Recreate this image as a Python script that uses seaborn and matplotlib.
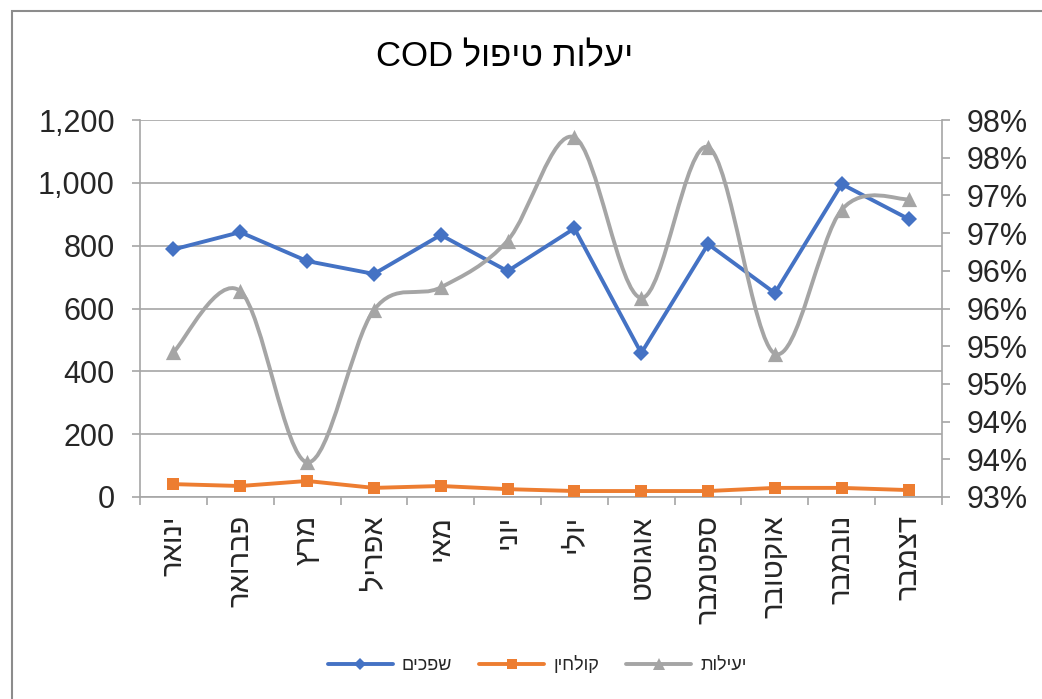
# COD treatment efficiency chart (Excel style, twin axes)

import numpy as np
import pandas as pd
import seaborn as sns
import matplotlib.pyplot as plt
from matplotlib.path import Path
from matplotlib.patches import PathPatch, Rectangle
from matplotlib.lines import Line2D
from matplotlib.ticker import FixedLocator, StrMethodFormatter

months = ["ינואר", "פברואר", "מרץ", "אפריל", "מאי", "יוני",
          "יולי", "אוגוסט", "ספטמבר", "אוקטובר", "נובמבר", "דצמבר"]
inflow = [788, 843, 751, 710, 834, 719, 855, 458, 805, 649, 996, 885]      # שפכים
effluent = [41, 35, 51, 29, 35, 25, 19, 19, 19, 29, 29, 22]                # קולחין
efficiency = [94.92, 95.73, 93.46, 95.48, 95.78, 96.40,
              97.77, 95.64, 97.64, 94.90, 96.81, 96.95]                    # יעילות (%)
left_ticks = [0, 200, 400, 600, 800, 1000, 1200]
right_ticks = [93.0, 93.5, 94.0, 94.5, 95.0, 95.5, 96.0, 96.5, 97.0, 97.5, 98.0]
right_labels = ["93%", "94%", "94%", "95%", "95%", "96%",
                "96%", "97%", "97%", "98%", "98%"]
title = "יעלות טיפול COD"
legend_names = ["שפכים", "קולחין", "יעילות"]


def rtl(s):
    # matplotlib has no bidi support: put Hebrew words in visual order
    out = []
    for w in reversed(s.split(" ")):
        if any("\u0590" <= c <= "\u05ff" for c in w):
            out.append(w[::-1])
        else:
            out.append(w)
    return " ".join(out)


def smooth_path(xs, ys):
    # Excel-like smoothed line: cubic bezier through points (catmull-rom)
    pts = np.column_stack([xs, ys]).astype(float)
    n = len(pts)
    verts = [pts[0]]
    codes = [Path.MOVETO]
    for i in range(n - 1):
        p0 = pts[max(i - 1, 0)]
        p1 = pts[i]
        p2 = pts[i + 1]
        p3 = pts[min(i + 2, n - 1)]
        verts += [p1 + (p2 - p0) / 6, p2 - (p3 - p1) / 6, p2]
        codes += [Path.CURVE4] * 3
    return Path(verts, codes)


sns.set_theme(style="white")
plt.rcParams["font.family"] = ["Liberation Sans", "DejaVu Sans"]

blue = "#4472C4"
orange = "#ED7D31"
gray = "#A5A5A5"
axis_gray = "#A6A6A6"

df = pd.DataFrame({"pos": np.arange(len(months)), "inflow": inflow,
                   "effluent": effluent, "efficiency": efficiency})

fig = plt.figure(figsize=(10.42, 6.99), dpi=100)
ax = fig.add_axes([140 / 1042, 202 / 699, 802 / 1042, 377 / 699])

sns.lineplot(data=df, x="pos", y="inflow", ax=ax, color=blue, lw=2.8,
             marker="D", markersize=8, markeredgewidth=0, zorder=3)
sns.lineplot(data=df, x="pos", y="effluent", ax=ax, color=orange, lw=2.8,
             marker="s", markersize=8, markeredgewidth=0, zorder=3)

ax.set_xlim(-0.5, len(months) - 0.5)
ax.set_ylim(0, 1200)
ax.set_yticks(left_ticks)
ax.yaxis.set_major_formatter(StrMethodFormatter("{x:,.0f}"))
ax.grid(axis="y", color=axis_gray, lw=1.2)
ax.set_axisbelow(True)

# category ticks between categories, labels centred under each
ax.xaxis.set_major_locator(FixedLocator(np.arange(-0.5, len(months), 1)))
ax.xaxis.set_minor_locator(FixedLocator(np.arange(len(months))))
ax.set_xticklabels([])
ax.set_xticklabels([rtl(m) for m in months], minor=True, rotation=90,
                   va="top", ha="center", fontsize=21)
ax.tick_params(axis="x", which="major", length=6, color=axis_gray, width=1.2,
               direction="out", bottom=True)
ax.tick_params(axis="x", which="minor", length=0, pad=13)
ax.tick_params(axis="y", length=6, color=axis_gray, width=1.2, left=True,
               direction="out", labelsize=22, pad=12)
ax.set_xlabel("")
ax.set_ylabel("")
for side in ["top", "right"]:
    ax.spines[side].set_visible(False)
ax.spines["left"].set_color(axis_gray)
ax.spines["bottom"].set_color(axis_gray)
ax.spines["left"].set_linewidth(1.2)
ax.spines["bottom"].set_linewidth(1.2)

ax2 = ax.twinx()
ax2.set_ylim(93, 98)
ax2.add_patch(PathPatch(smooth_path(df["pos"], df["efficiency"]),
                        facecolor="none", edgecolor=gray, lw=2.8, zorder=3))
sns.scatterplot(data=df, x="pos", y="efficiency", ax=ax2, color=gray,
                marker="^", s=120, linewidth=0, zorder=4)
ax2.set_yticks(right_ticks)
ax2.set_yticklabels(right_labels)
ax2.tick_params(axis="y", length=6, color=axis_gray, width=1.2, right=True,
                direction="out", labelsize=22, pad=12)
ax2.set_ylabel("")
ax2.set_xlabel("")
for side in ["top", "left", "bottom"]:
    ax2.spines[side].set_visible(False)
ax2.spines["right"].set_color(axis_gray)
ax2.spines["right"].set_linewidth(1.2)

fig.text(505 / 1042, 1 - 57 / 699, rtl(title), ha="center", va="center",
         fontsize=25, color="#000000")

handles = [
    Line2D([], [], color=blue, lw=2.8, marker="D", markersize=6.5, markeredgewidth=0),
    Line2D([], [], color=orange, lw=2.8, marker="s", markersize=6.5, markeredgewidth=0),
    Line2D([], [], color=gray, lw=2.8, marker="^", markersize=9, markeredgewidth=0),
]
fig.legend(handles, [rtl(n) for n in legend_names], loc="center",
           bbox_to_anchor=(537 / 1042, 1 - 665 / 699), ncol=3, frameon=False,
           fontsize=13, handlelength=3.6, columnspacing=1.5, handletextpad=0.5)

fig.add_artist(Rectangle((12 / 1042, -0.1), 1.1, 1.1 - 11 / 699,
                         transform=fig.transFigure, fill=False,
                         edgecolor="#8C8C8C", lw=1.5))

fig.savefig("out.png", dpi=100)
